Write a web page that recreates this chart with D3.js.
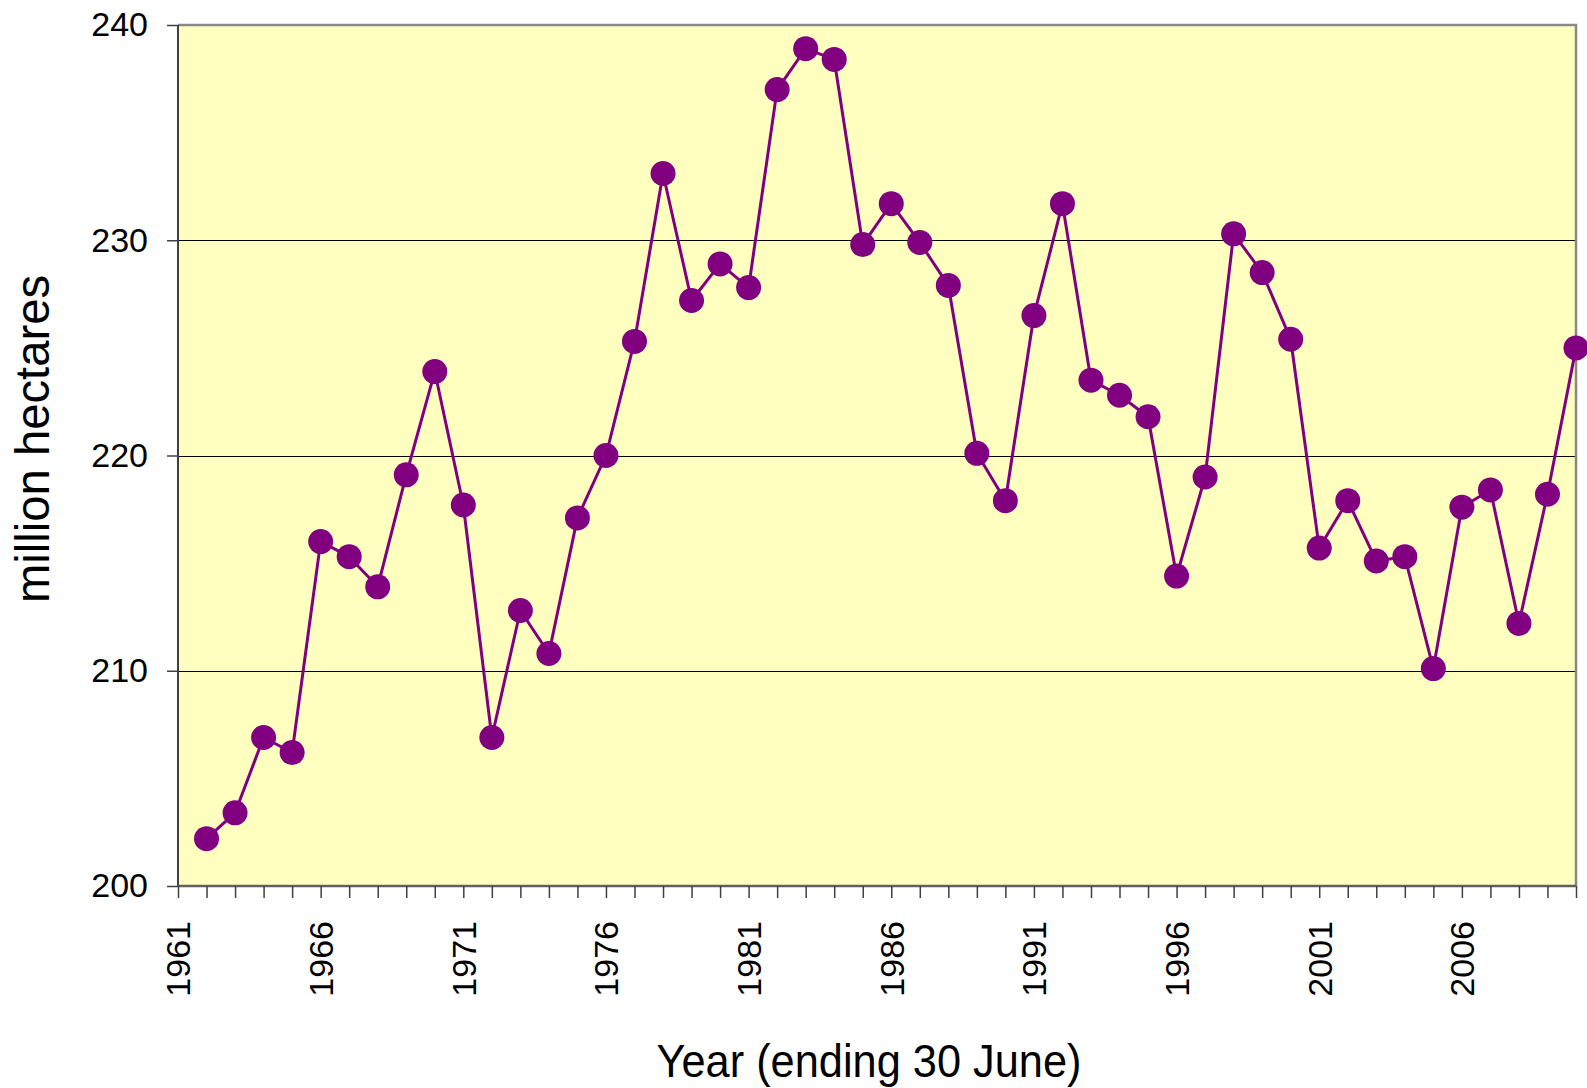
<!DOCTYPE html>
<html>
<head>
<meta charset="utf-8">
<script src="https://cdn.jsdelivr.net/npm/d3@7"></script>
<style>
  html, body { margin: 0; padding: 0; background: #ffffff; }
  svg { display: block; font-family: 'Liberation Sans', Arial, sans-serif; }
</style>
</head>
<body>
<div id="chart"></div>
<script>
'use strict';

// year ending 30 June
var years = [
  1962, 1963, 1964, 1965, 1966, 1967, 1968, 1969, 1970, 1971,
  1972, 1973, 1974, 1975, 1976, 1977, 1978, 1979, 1980, 1981,
  1982, 1983, 1984, 1985, 1986, 1987, 1988, 1989, 1990, 1991,
  1992, 1993, 1994, 1995, 1996, 1997, 1998, 1999, 2000, 2001,
  2002, 2003, 2004, 2005, 2006, 2007, 2008, 2009, 2010
];

// million hectares
var hectares = [
  202.2, 203.4, 206.9, 206.2, 216.0, 215.3, 213.9, 219.1, 223.9, 217.7,
  206.9, 212.8, 210.8, 217.1, 220.0, 225.3, 233.1, 227.2, 228.9, 227.8,
  237.0, 238.9, 238.4, 229.8, 231.7, 229.9, 227.9, 220.1, 217.9, 226.5,
  231.7, 223.5, 222.8, 221.8, 214.4, 219.0, 230.3, 228.5, 225.4, 215.7,
  217.9, 215.1, 215.3, 210.1, 217.6, 218.4, 212.2, 218.2, 225.0
];

var xTickYears = d3.range( 1961, 2011 );
var xLabelYears = [ 1961, 1966, 1971, 1976, 1981, 1986, 1991, 1996, 2001, 2006 ];
var yTicks = [ 200, 210, 220, 230, 240 ];

var data = years.map( function( y, i ) {
  return { year: y, value: hectares[i] };
} );

var baseWidth = 1587,
    baseHeight = 1088,
    margin = { top: 25, right: 11, bottom: 202, left: 178 };

var width = baseWidth - margin.left - margin.right,
    height = baseHeight - margin.top - margin.bottom;

var x = d3.scaleLinear()
  .domain( [ 1961, 2010 ] )
  .range( [ 0, width ] );

var y = d3.scaleLinear()
  .domain( [ 200, 240 ] )
  .range( [ height, 0 ] );

var svg = d3.select( '#chart' )
  .append( 'svg' )
    .attr( 'width', baseWidth )
    .attr( 'height', baseHeight )
  .append( 'g' )
    .attr( 'transform', 'translate(' + margin.left + ',' + margin.top + ')' );

// plot area
svg.append( 'rect' )
  .attr( 'x', 0 )
  .attr( 'y', 0 )
  .attr( 'width', width )
  .attr( 'height', height )
  .style( 'fill', '#ffffc0' );

// gridlines
svg.selectAll( '.grid' )
  .data( yTicks.filter( function( d ) { return d > 200 && d < 240; } ) )
  .enter()
  .append( 'line' )
    .attr( 'class', 'grid' )
    .attr( 'x1', 0 )
    .attr( 'x2', width )
    .attr( 'y1', function( d ) { return Math.round( y( d ) ) + 0.5; } )
    .attr( 'y2', function( d ) { return Math.round( y( d ) ) + 0.5; } )
    .style( 'stroke', '#000000' )
    .style( 'stroke-width', 1 );

// top and right border
svg.append( 'path' )
  .attr( 'd', 'M0,0H' + width + 'V' + height )
  .style( 'fill', 'none' )
  .style( 'stroke', '#888888' )
  .style( 'stroke-width', 2.5 );

// y axis
var yAxis = d3.axisLeft( y )
  .tickValues( yTicks )
  .tickSize( 11 )
  .tickPadding( 19 );

var yG = svg.append( 'g' ).call( yAxis );
yG.select( '.domain' )
  .attr( 'd', 'M0,' + height + 'V0' )
  .style( 'stroke', '#404040' )
  .style( 'stroke-width', 2 );
yG.selectAll( '.tick line' )
  .style( 'stroke', '#404040' )
  .style( 'stroke-width', 1.5 );
yG.selectAll( '.tick text' )
  .style( 'font-size', '34px' )
  .style( 'fill', '#000000' )
  .style( 'font-family', "'Liberation Sans', Arial, sans-serif" );

// x axis
var xAxis = d3.axisBottom( x )
  .tickValues( xTickYears )
  .tickSize( 12 )
  .tickFormat( function( d ) {
    return xLabelYears.indexOf( d ) >= 0 ? String( d ) : '';
  } );

var xG = svg.append( 'g' )
  .attr( 'transform', 'translate(0,' + height + ')' )
  .call( xAxis );
xG.select( '.domain' )
  .attr( 'd', 'M0,0H' + width )
  .style( 'stroke', '#606060' )
  .style( 'stroke-width', 2.5 );
xG.selectAll( '.tick line' )
  .style( 'stroke', '#404040' )
  .style( 'stroke-width', 1.5 );
xG.selectAll( '.tick text' )
  .attr( 'transform', 'rotate(-90)' )
  .attr( 'x', -35 )
  .attr( 'y', 0 )
  .attr( 'dy', '0.35em' )
  .style( 'text-anchor', 'end' )
  .style( 'font-size', '34px' )
  .style( 'fill', '#000000' )
  .style( 'font-family', "'Liberation Sans', Arial, sans-serif" );

// series
var line = d3.line()
  .x( function( d ) { return x( d.year ); } )
  .y( function( d ) { return y( d.value ); } );

svg.append( 'path' )
  .datum( data )
  .attr( 'd', line )
  .style( 'fill', 'none' )
  .style( 'stroke', '#800080' )
  .style( 'stroke-width', 3 )
  .style( 'stroke-linejoin', 'round' );

svg.selectAll( '.dot' )
  .data( data )
  .enter()
  .append( 'circle' )
    .attr( 'class', 'dot' )
    .attr( 'cx', function( d ) { return x( d.year ); } )
    .attr( 'cy', function( d ) { return y( d.value ); } )
    .attr( 'r', 12.5 )
    .style( 'fill', '#800080' );

// axis titles
svg.append( 'text' )
  .attr( 'x', 691 )
  .attr( 'y', 1077 - margin.top )
  .attr( 'textLength', 425 )
  .attr( 'lengthAdjust', 'spacingAndGlyphs' )
  .style( 'text-anchor', 'middle' )
  .style( 'font-size', '47px' )
  .text( 'Year (ending 30 June)' );

svg.append( 'text' )
  .attr( 'transform', 'translate(' + ( 49 - margin.left ) + ',' + ( 439 - margin.top ) + ') rotate(-90)' )
  .attr( 'textLength', 328 )
  .attr( 'lengthAdjust', 'spacingAndGlyphs' )
  .style( 'text-anchor', 'middle' )
  .style( 'font-size', '48px' )
  .text( 'million hectares' );
</script>
</body>
</html>
